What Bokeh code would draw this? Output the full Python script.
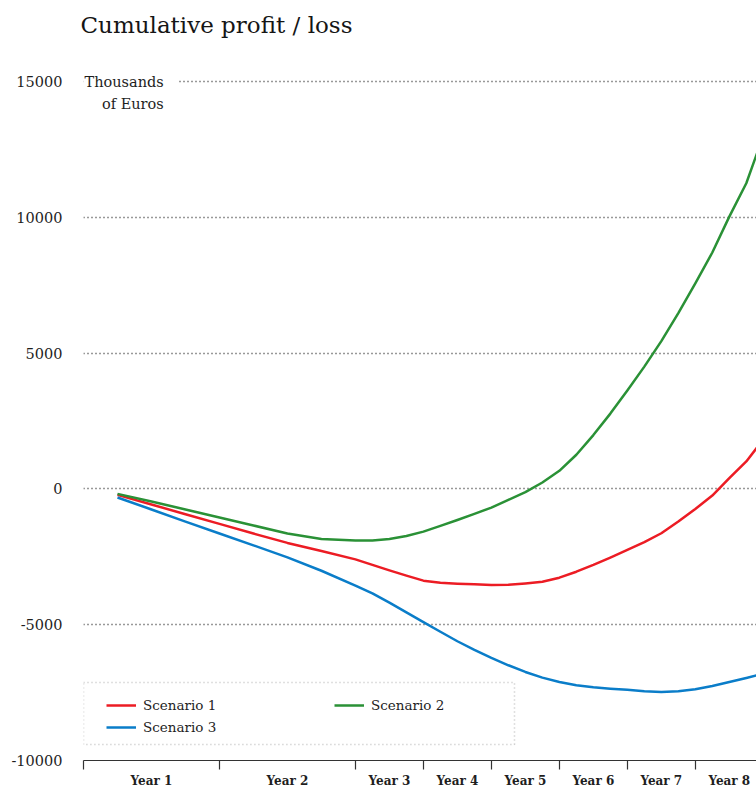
from bokeh.plotting import figure
from bokeh.models import (Range1d, FixedTicker, Legend, LegendItem, Label,
                          BoxAnnotation, CustomJSTickFormatter)
from bokeh.embed import file_html
from bokeh.resources import INLINE

# ---- data -------------------------------------------------------------
# Horizontal position: Year 1 and Year 2 span two units each, Years 3-8 one unit each.
year_labels = ["Year 1", "Year 2", "Year 3", "Year 4", "Year 5", "Year 6", "Year 7", "Year 8"]
year_bounds = [0, 2, 4, 5, 6, 7, 8, 9, 10]
year_centers = [1, 3, 4.5, 5.5, 6.5, 7.5, 8.5, 9.5]

# quarter ends on that scale
period = [0.5, 1.0, 1.5, 2.0, 2.5, 3.0, 3.5, 4.0,
          4.25, 4.5, 4.75, 5.0, 5.25, 5.5, 5.75, 6.0,
          6.25, 6.5, 6.75, 7.0, 7.25, 7.5, 7.75, 8.0,
          8.25, 8.5, 8.75, 9.0, 9.25, 9.5, 9.75, 10.0]

# cumulative profit / loss, thousands of euros
scenario_1 = [-220, -575, -935, -1290, -1645, -1990, -2290, -2595,
              -2800, -3000, -3195, -3380, -3455, -3490, -3515, -3540,
              -3530, -3480, -3420, -3270, -3050, -2800, -2530, -2250,
              -1965, -1635, -1205, -740, -245, 395, 1010, 1820]
scenario_2 = [-185, -465, -760, -1055, -1350, -1645, -1845, -1905,
              -1900, -1845, -1735, -1575, -1365, -1145, -920, -690,
              -405, -120, 235, 665, 1255, 1980, 2770, 3620,
              4500, 5440, 6470, 7560, 8700, 10020, 11250, 13000]
scenario_3 = [-320, -760, -1205, -1645, -2080, -2520, -3015, -3560,
              -3850, -4190, -4550, -4905, -5260, -5610, -5925, -6220,
              -6495, -6740, -6950, -7110, -7230, -7305, -7355, -7400,
              -7455, -7480, -7455, -7380, -7255, -7110, -6960, -6800]

y_ticks = [-10000, -5000, 0, 5000, 10000, 15000]

series_names = ["Scenario 1", "Scenario 2", "Scenario 3"]
series_colors = ["#ec1c24", "#2a9136", "#0a7dc9"]

# ---- styling ----------------------------------------------------------
SERIF = "DejaVu Serif"
INK = "#1e1e1e"

# frame geometry: 681 px between the lowest and highest tick, plus headroom
# above the top tick so the unit caption sits inside the frame
TICK_SPAN_PX = 681
TOP_BORDER = 37
HEAD_PX = 44
y_low, y_tick_top = y_ticks[0], y_ticks[-1]
y_high = y_tick_top + (y_tick_top - y_low) * HEAD_PX / TICK_SPAN_PX

p = figure(width=756, height=790, output_backend="svg", toolbar_location=None,
           x_range=Range1d(0, 9.9), y_range=Range1d(y_low, y_high),
           min_border_left=83, min_border_right=0, min_border_top=TOP_BORDER,
           min_border_bottom=28)
p.outline_line_color = None
p.background_fill_color = "white"
p.border_fill_color = "white"

p.title.text = "Cumulative profit / loss"
p.title.text_font = SERIF
p.title.text_font_size = "23px"
p.title.text_font_style = "normal"
p.title.text_color = "#151515"
p.title.align = "left"
p.title.offset = -3
p.title.standoff = 0

# x axis: tick marks at year boundaries, labels centred in each year
xa = p.xaxis[0]
xa.ticker = FixedTicker(ticks=year_centers, minor_ticks=year_bounds)
xa.formatter = CustomJSTickFormatter(
    args=dict(centers=year_centers, labels=year_labels),
    code="const i = centers.indexOf(tick); return i >= 0 ? labels[i] : '';")
xa.axis_line_color = "#333333"
xa.axis_line_width = 1.2
xa.major_tick_line_color = None
xa.major_tick_in = 0
xa.major_tick_out = 9
xa.minor_tick_line_color = "#333333"
xa.minor_tick_line_width = 1.2
xa.minor_tick_in = 0
xa.minor_tick_out = 9
xa.major_label_standoff = 4
xa.major_label_text_font = SERIF
xa.major_label_text_font_style = "bold"
xa.major_label_text_font_size = "12px"
xa.major_label_text_color = INK

ya = p.yaxis[0]
ya.ticker = FixedTicker(ticks=y_ticks)
ya.formatter = CustomJSTickFormatter(code="return tick.toFixed(0);")
ya.axis_line_color = None
ya.major_tick_line_color = None
ya.minor_tick_line_color = None
ya.major_tick_in = 0
ya.major_tick_out = 0
ya.major_label_standoff = 21
ya.major_label_text_font = SERIF
ya.major_label_text_font_size = "14.5px"
ya.major_label_text_color = INK

p.xgrid.grid_line_color = None
p.ygrid.ticker = FixedTicker(ticks=y_ticks)
p.ygrid.grid_line_color = "#333333"
p.ygrid.grid_line_width = 1.5
p.ygrid.grid_line_dash = "1 3"

# unit caption next to the top tick; its white box masks the start of the top grid line
CAPTION_PAD = 15
unit_top = Label(x=1.18, x_offset=CAPTION_PAD, y=y_tick_top, y_offset=-1,
                 text="Thousands", text_align="right", text_baseline="middle",
                 text_font=SERIF, text_font_size="14.5px", text_color=INK,
                 background_fill_color="white", padding=CAPTION_PAD)
unit_bottom = Label(x=1.18, y=y_tick_top, y_offset=-23, text="of Euros",
                    text_align="right", text_baseline="middle", text_font=SERIF,
                    text_font_size="14.5px", text_color=INK)
p.add_layout(unit_top)
p.add_layout(unit_bottom)

renderers = []
for ys, color in zip([scenario_1, scenario_2, scenario_3], series_colors):
    r = p.line(period, ys, line_color=color, line_width=2.5, line_join="round")
    renderers.append(r)

# dotted frame around the key
key_frame = BoxAnnotation(left=0, right=6.34, top=-7130, bottom=-9410,
                          fill_alpha=0, line_color="#333333", line_width=1.5,
                          line_dash="1 3")
p.add_layout(key_frame)

legend = Legend(items=[LegendItem(label=n, renderers=[r]) for n, r in zip(series_names, renderers)],
                location="bottom_left", orientation="horizontal", ncols=2,
                margin=23, padding=10, spacing=2,
                glyph_width=30, glyph_height=20, label_height=20, label_width=189,
                label_standoff=7, border_line_color=None, background_fill_alpha=0,
                label_text_font=SERIF, label_text_font_size="13.5px",
                label_text_color=INK)
p.add_layout(legend)

open("out.html", "w").write(file_html(p, INLINE))
